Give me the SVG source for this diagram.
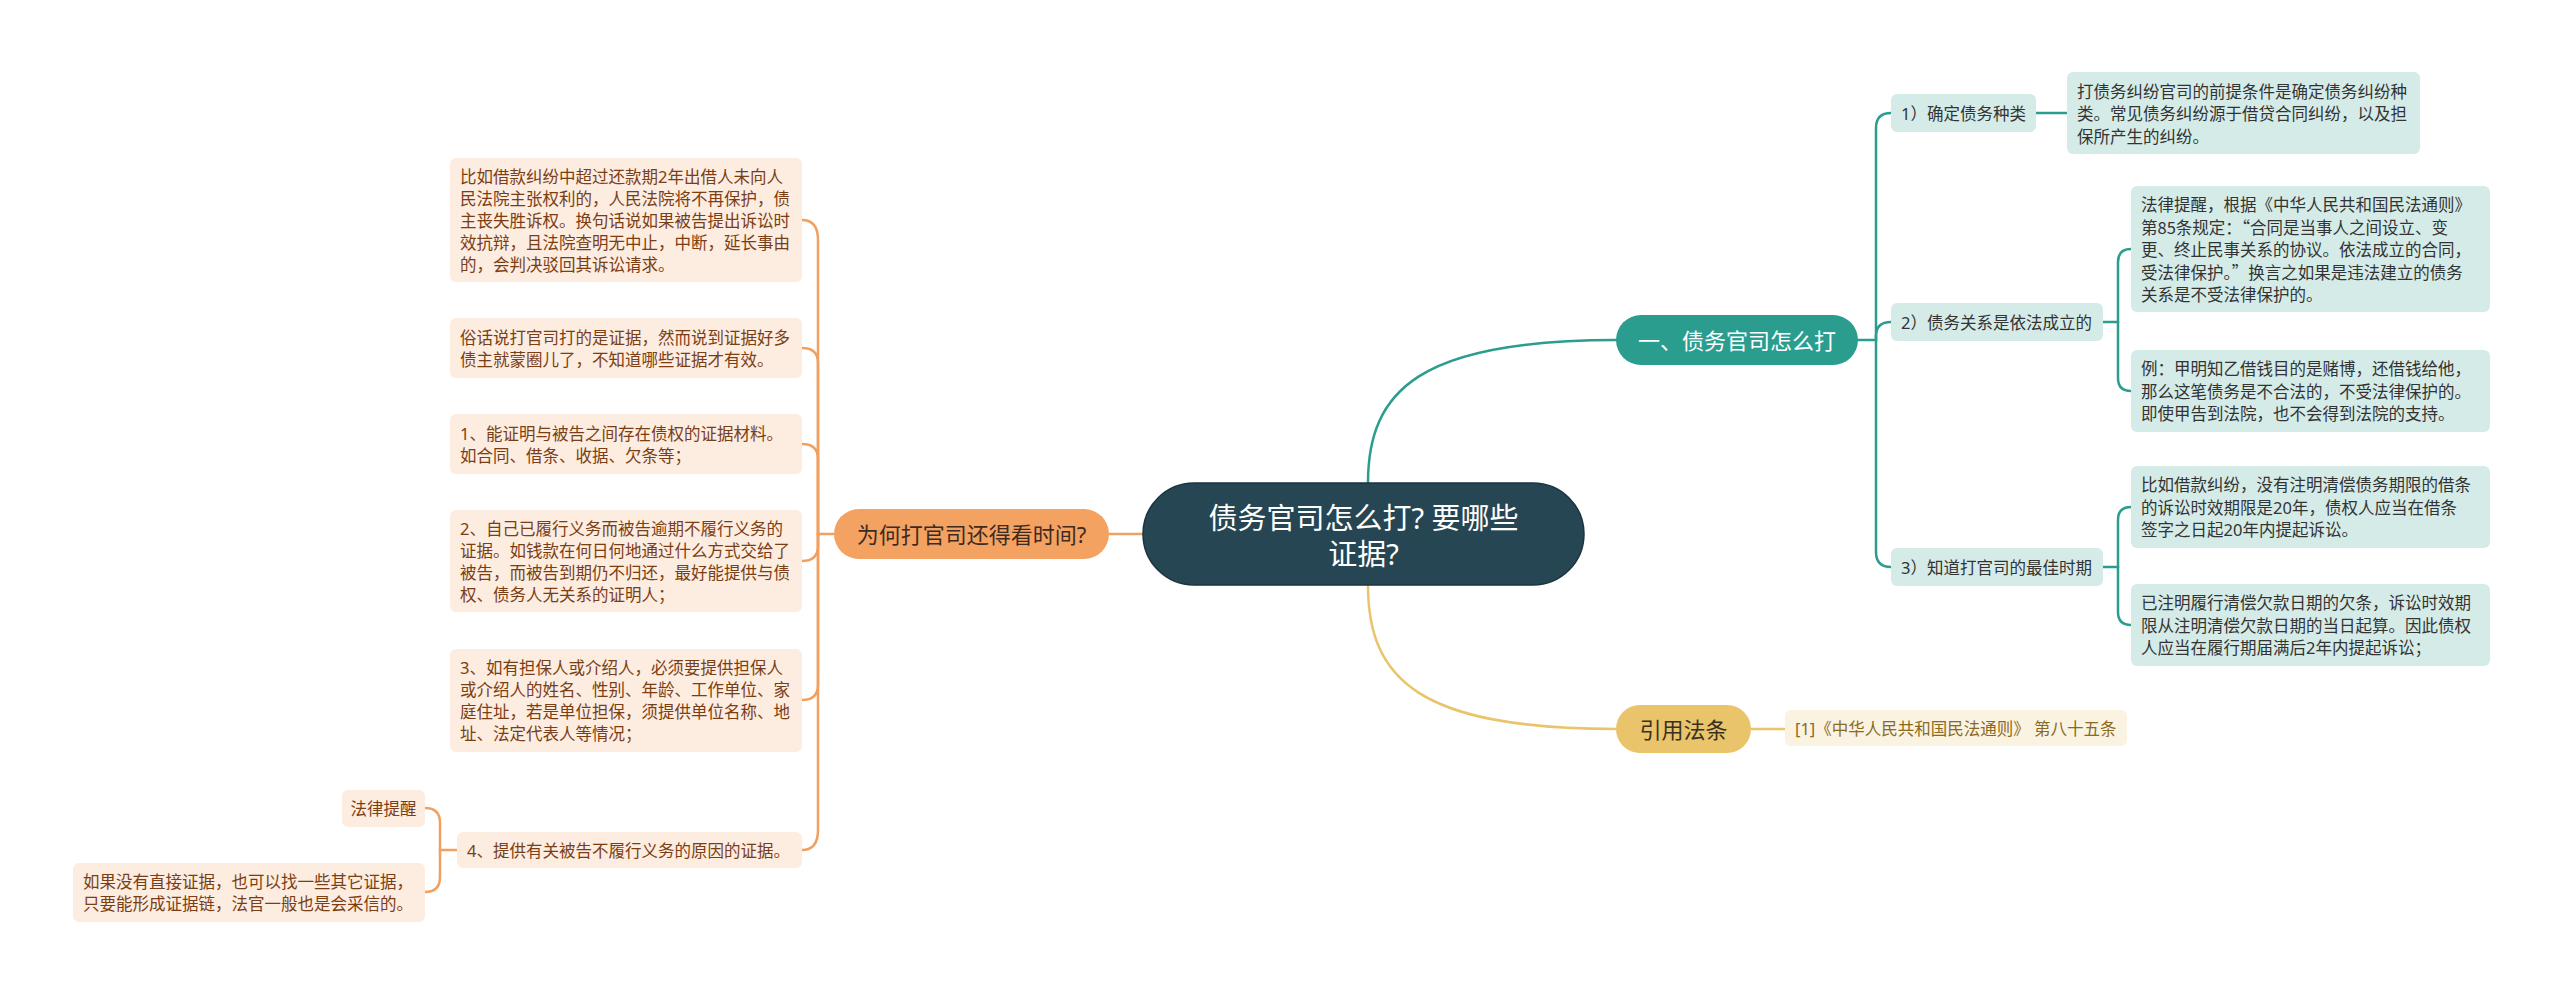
<svg xmlns="http://www.w3.org/2000/svg" width="2560" height="995" viewBox="0 0 2560 995">
<style>
text{font-family:"Noto Sans","Noto Sans CJK SC",sans-serif;dominant-baseline:central}
text.q{font-family:"Noto Sans CJK SC","Noto Sans",sans-serif}
.t1{font-size:22px}
.t2{font-size:16.5px}
.ct{font-size:29px;fill:#ffffff}
.tl{fill:#d5ebe8}
.tt{fill:#333333}
.ol{fill:#fdece0}
.ot{fill:#7a3e14}
.c{fill:none;stroke-width:2.5;stroke-linecap:round}
.cT{stroke:#2a9d8f}
.cO{stroke:#f0a060}
.cY{stroke:#e9c46a}
</style>
<rect width="2560" height="995" fill="#ffffff"/>
<g id="connectors">
<path class="c cT" d="M1368,483 C1368,390 1420,340 1616,340"/>
<path class="c cY" d="M1368,585 C1368,680 1420,729 1616,729"/>
<path class="c cO" d="M1143,534 H1109"/>
<path class="c cY" d="M1751,729 H1785"/>
<path class="c cT" d="M1858,340 H1876"/>
<path class="c cT" d="M1876,340 V128 Q1876,113 1891,113"/>
<path class="c cT" d="M1876,340 V336 Q1876,322 1891,322"/>
<path class="c cT" d="M1876,340 V552 Q1876,567 1891,567"/>
<path class="c cT" d="M2036,113 H2067"/>
<path class="c cT" d="M2103,322 H2118"/>
<path class="c cT" d="M2118,322 V262 Q2118,249 2131,249"/>
<path class="c cT" d="M2118,322 V378 Q2118,391 2131,391"/>
<path class="c cT" d="M2103,567 H2118"/>
<path class="c cT" d="M2118,567 V520 Q2118,507 2131,507"/>
<path class="c cT" d="M2118,567 V612 Q2118,625 2131,625"/>
<path class="c cO" d="M834,534 H818"/>
<path class="c cO" d="M818,534 V240 Q818,220 802,220"/>
<path class="c cO" d="M818,534 V363 Q818,348 802,348"/>
<path class="c cO" d="M818,534 V459 Q818,444 802,444"/>
<path class="c cO" d="M818,534 V546 Q818,561 802,561"/>
<path class="c cO" d="M818,534 V685 Q818,700 802,700"/>
<path class="c cO" d="M818,534 V830 Q818,850 802,850"/>
<path class="c cO" d="M457,850 H440"/>
<path class="c cO" d="M440,850 V823 Q440,808 425,808"/>
<path class="c cO" d="M440,850 V877 Q440,892 425,892"/>
</g>
<g id="center">
<rect x="1143" y="483" width="441" height="102" rx="51" fill="#264653" stroke="#1b3440" stroke-width="1.5"/>
<text class="ct" x="1363.5" y="517" text-anchor="middle">债务官司怎么打? 要哪些</text>
<text class="ct" x="1363.5" y="553" text-anchor="middle">证据?</text>
</g>
<g id="n-yi">
<rect x="1616" y="315" width="242" height="50" rx="25" fill="#2a9d8f"/>
<text class="t1" x="1737" y="340" text-anchor="middle" fill="#ffffff">一、债务官司怎么打</text>
</g>
<g id="n-why">
<rect x="834" y="509" width="275" height="50" rx="25" fill="#f4a261"/>
<text class="t1" x="971.5" y="534" text-anchor="middle" fill="#3d2b1f">为何打官司还得看时间?</text>
</g>
<g id="n-cite">
<rect x="1616" y="705" width="135" height="48" rx="24" fill="#e9c46a"/>
<text class="t1" x="1683.5" y="729" text-anchor="middle" fill="#3a3020">引用法条</text>
</g>
<g id="n-cite-1">
<rect x="1785" y="710" width="342" height="36" rx="6" fill="#fbf3e2"/>
<text class="t2" x="1795" y="728" fill="#8a6a1e">[1]《中华人民共和国民法通则》 第八十五条</text>
</g>
<g id="n-r1">
<rect class="tl" x="1891" y="94" width="145" height="38" rx="6"/>
<text class="t2 tt" x="1901" y="113">1）确定债务种类</text>
</g>
<g id="n-r1a">
<rect class="tl" x="2067" y="72" width="353" height="82" rx="6"/>
<text class="t2 tt" x="2077" y="91">打债务纠纷官司的前提条件是确定债务纠纷种</text>
<text class="t2 tt" x="2077" y="113.5">类。常见债务纠纷源于借贷合同纠纷，以及担</text>
<text class="t2 tt" x="2077" y="136">保所产生的纠纷。</text>
</g>
<g id="n-r2">
<rect class="tl" x="1891" y="303" width="212" height="38" rx="6"/>
<text class="t2 tt" x="1901" y="322">2）债务关系是依法成立的</text>
</g>
<g id="n-r2a">
<rect class="tl" x="2131" y="186" width="359" height="126" rx="6"/>
<text class="t2 tt" x="2141" y="204">法律提醒，根据《中华人民共和国民法通则》</text>
<text class="t2 tt q" x="2141" y="226.5">第85条规定：“合同是当事人之间设立、变</text>
<text class="t2 tt" x="2141" y="249">更、终止民事关系的协议。依法成立的合同，</text>
<text class="t2 tt q" x="2141" y="271.5">受法律保护。”换言之如果是违法建立的债务</text>
<text class="t2 tt" x="2141" y="294">关系是不受法律保护的。</text>
</g>
<g id="n-r2b">
<rect class="tl" x="2131" y="350" width="359" height="82" rx="6"/>
<text class="t2 tt" x="2141" y="368.5">例：甲明知乙借钱目的是赌博，还借钱给他，</text>
<text class="t2 tt" x="2141" y="391">那么这笔债务是不合法的，不受法律保护的。</text>
<text class="t2 tt" x="2141" y="413.5">即使甲告到法院，也不会得到法院的支持。</text>
</g>
<g id="n-r3">
<rect class="tl" x="1891" y="548" width="212" height="38" rx="6"/>
<text class="t2 tt" x="1901" y="567">3）知道打官司的最佳时期</text>
</g>
<g id="n-r3a">
<rect class="tl" x="2131" y="466" width="359" height="82" rx="6"/>
<text class="t2 tt" x="2141" y="484.5">比如借款纠纷，没有注明清偿债务期限的借条</text>
<text class="t2 tt" x="2141" y="507">的诉讼时效期限是20年，债权人应当在借条</text>
<text class="t2 tt" x="2141" y="529.5">签字之日起20年内提起诉讼。</text>
</g>
<g id="n-r3b">
<rect class="tl" x="2131" y="584" width="359" height="82" rx="6"/>
<text class="t2 tt" x="2141" y="602.5">已注明履行清偿欠款日期的欠条，诉讼时效期</text>
<text class="t2 tt" x="2141" y="625">限从注明清偿欠款日期的当日起算。因此债权</text>
<text class="t2 tt" x="2141" y="647.5">人应当在履行期届满后2年内提起诉讼；</text>
</g>
<g id="n-la">
<rect class="ol" x="450" y="158" width="352" height="124" rx="6"/>
<text class="t2 ot" x="460" y="176">比如借款纠纷中超过还款期2年出借人未向人</text>
<text class="t2 ot" x="460" y="198">民法院主张权利的，人民法院将不再保护，债</text>
<text class="t2 ot" x="460" y="220">主丧失胜诉权。换句话说如果被告提出诉讼时</text>
<text class="t2 ot" x="460" y="242">效抗辩，且法院查明无中止，中断，延长事由</text>
<text class="t2 ot" x="460" y="264">的，会判决驳回其诉讼请求。</text>
</g>
<g id="n-lb">
<rect class="ol" x="450" y="318" width="352" height="60" rx="6"/>
<text class="t2 ot" x="460" y="337">俗话说打官司打的是证据，然而说到证据好多</text>
<text class="t2 ot" x="460" y="359">债主就蒙圈儿了，不知道哪些证据才有效。</text>
</g>
<g id="n-lc">
<rect class="ol" x="450" y="414" width="352" height="60" rx="6"/>
<text class="t2 ot" x="460" y="433">1、能证明与被告之间存在债权的证据材料。</text>
<text class="t2 ot" x="460" y="455">如合同、借条、收据、欠条等；</text>
</g>
<g id="n-ld">
<rect class="ol" x="450" y="510" width="352" height="102" rx="6"/>
<text class="t2 ot" x="460" y="528">2、自己已履行义务而被告逾期不履行义务的</text>
<text class="t2 ot" x="460" y="550">证据。如钱款在何日何地通过什么方式交给了</text>
<text class="t2 ot" x="460" y="572">被告，而被告到期仍不归还，最好能提供与债</text>
<text class="t2 ot" x="460" y="594">权、债务人无关系的证明人；</text>
</g>
<g id="n-le">
<rect class="ol" x="450" y="649" width="352" height="103" rx="6"/>
<text class="t2 ot" x="460" y="667.5">3、如有担保人或介绍人，必须要提供担保人</text>
<text class="t2 ot" x="460" y="689.5">或介绍人的姓名、性别、年龄、工作单位、家</text>
<text class="t2 ot" x="460" y="711.5">庭住址，若是单位担保，须提供单位名称、地</text>
<text class="t2 ot" x="460" y="733.5">址、法定代表人等情况；</text>
</g>
<g id="n-lf">
<rect class="ol" x="457" y="832" width="345" height="36" rx="6"/>
<text class="t2 ot" x="467" y="850">4、提供有关被告不履行义务的原因的证据。</text>
</g>
<g id="n-lf1">
<rect class="ol" x="342" y="790" width="83" height="37" rx="6"/>
<text class="t2 ot" x="383.5" y="808.5" text-anchor="middle">法律提醒</text>
</g>
<g id="n-lf2">
<rect class="ol" x="73" y="863" width="352" height="59" rx="6"/>
<text class="t2 ot" x="83" y="881.5">如果没有直接证据，也可以找一些其它证据，</text>
<text class="t2 ot" x="83" y="903.5">只要能形成证据链，法官一般也是会采信的。</text>
</g>
</svg>
